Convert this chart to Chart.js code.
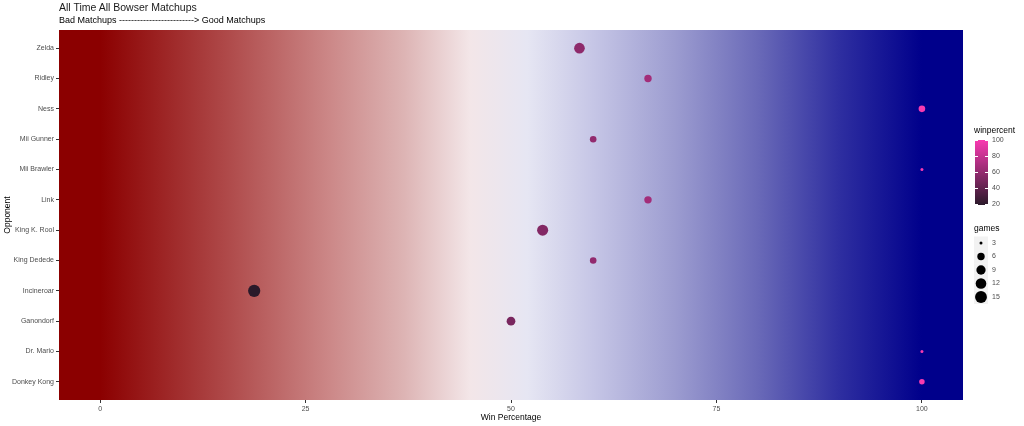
<!DOCTYPE html>
<html>
<head>
<meta charset="utf-8">
<script src="https://cdn.jsdelivr.net/npm/chart.js@4.4.1/dist/chart.umd.min.js"></script>
<style>
  html, body { margin: 0; padding: 0; background: #fff; }
  #wrap { position: relative; width: 1024px; height: 426px; font-family: "Liberation Sans", Arial, sans-serif; }
  #title { position: absolute; left: 59px; top: 1px; font-size: 10.5px; color: #1a1a1a; }
  #subtitle { position: absolute; left: 59px; top: 15px; font-size: 9px; color: #000; }
  canvas { position: absolute; left: 0; top: 0; }
</style>
</head>
<body>
<div id="wrap">
  <canvas id="chart" width="1024" height="426"></canvas>
  <div id="title">All Time All Bowser Matchups</div>
  <div id="subtitle">Bad Matchups -------------------------&gt; Good Matchups</div>
</div>
<script>
// ---- data ----
const opponents = ["Zelda", "Ridley", "Ness", "Mii Gunner", "Mii Brawler", "Link",
                   "King K. Rool", "King Dedede", "Incineroar", "Ganondorf", "Dr. Mario", "Donkey Kong"];
const winPct = [58.33, 66.67, 100, 60, 100, 66.67, 53.85, 60, 18.75, 50, 100, 100];
const games  = [12, 6, 5, 5, 3, 6, 13, 5, 16, 8, 3, 4];
const xTicks = [0, 25, 50, 75, 100];
const colorTicks = [20, 40, 60, 80, 100];
const sizeTicks = [3, 6, 9, 12, 15];

// ---- scales for colour / size (like ggplot's) ----
const pctMin = Math.min(...winPct), pctMax = Math.max(...winPct);
const gMin = Math.min(...games), gMax = Math.max(...games);
const LOW = [42, 26, 42], HIGH = [247, 58, 176];

function pctColor(v){
  const t = Math.max(0, Math.min(1, (v - pctMin) / (pctMax - pctMin)));
  const c = LOW.map((l, i) => Math.round(l + (HIGH[i] - l) * t));
  return `rgb(${c[0]},${c[1]},${c[2]})`;
}
function gamesRadius(g){
  const t = Math.max(0, (g - gMin) / (gMax - gMin));
  return 1.5 + 4.6 * Math.sqrt(t);
}

// background fill from darkred to darkblue
const bgStops = [
  [0, "#8b0000"], [0.16, "#b04c4c"], [0.28, "#cc8888"], [0.37, "#ddb4b4"],
  [0.45, "#f3e6e8"], [0.52, "#e6e6f3"], [0.6, "#c6c6e6"], [0.7, "#9c9cd0"],
  [0.8, "#6a6ab8"], [0.9, "#2e2ea0"], [1, "#00008b"]
];

const bgPlugin = {
  id: "bgGradient",
  beforeDatasetsDraw(chart){
    const { ctx, chartArea: a, scales: { x } } = chart;
    const g = ctx.createLinearGradient(x.getPixelForValue(0), 0, x.getPixelForValue(100), 0);
    bgStops.forEach(s => g.addColorStop(s[0], s[1]));
    ctx.save();
    ctx.fillStyle = g;
    ctx.fillRect(a.left, a.top, a.right - a.left, a.bottom - a.top);
    ctx.restore();
  }
};

// legends on the right
const legendPlugin = {
  id: "sideLegend",
  afterDraw(chart){
    const ctx = chart.ctx;
    ctx.save();
    ctx.font = '8.5px "Liberation Sans", Arial, sans-serif';
    ctx.fillStyle = "#000";
    ctx.textBaseline = "middle";
    ctx.fillText("winpercent", 974, 131);

    // colour bar
    const bx = 975, bw = 13, yTop = 140, yBot = 205;
    const yOf = v => yBot - (v - pctMin) / (pctMax - pctMin) * (yBot - yTop);
    for (let y = yTop; y < yBot; y++){
      const v = pctMin + (yBot - y) / (yBot - yTop) * (pctMax - pctMin);
      ctx.fillStyle = pctColor(v);
      ctx.fillRect(bx, y, bw, 1);
    }
    ctx.font = '7px "Liberation Sans", Arial, sans-serif';
    colorTicks.forEach(v => {
      const y = Math.round(yOf(v)) + 0.5;
      ctx.strokeStyle = "#fff";
      ctx.lineWidth = 1;
      ctx.beginPath();
      ctx.moveTo(bx, y); ctx.lineTo(bx + 3, y);
      ctx.moveTo(bx + bw - 3, y); ctx.lineTo(bx + bw, y);
      ctx.stroke();
      ctx.fillStyle = "#4d4d4d";
      ctx.fillText(String(v), 992, y);
    });

    // size key
    ctx.font = '8.5px "Liberation Sans", Arial, sans-serif';
    ctx.fillStyle = "#000";
    ctx.fillText("games", 974, 229);
    ctx.font = '7px "Liberation Sans", Arial, sans-serif';
    sizeTicks.forEach((g, i) => {
      const cy = 243 + i * 13.5;
      ctx.fillStyle = "#f2f2f2";
      ctx.fillRect(974, cy - 6.5, 14, 13.5);
      ctx.fillStyle = "#000";
      ctx.beginPath();
      ctx.arc(981, cy, gamesRadius(g), 0, Math.PI * 2);
      ctx.fill();
      ctx.fillStyle = "#4d4d4d";
      ctx.fillText(String(g), 992, cy);
    });
    ctx.restore();
  }
};

const points = opponents.map((name, i) => ({ x: winPct[i], y: i, r: gamesRadius(games[i]) }));

const tickFont = { family: '"Liberation Sans", Arial, sans-serif', size: 7 };
const titleFont = { family: '"Liberation Sans", Arial, sans-serif', size: 8.5 };

new Chart(document.getElementById("chart"), {
  type: "bubble",
  data: {
    datasets: [{
      label: "matchups",
      data: points,
      backgroundColor: ctx => pctColor(winPct[ctx.dataIndex]),
      borderWidth: 0,
      hoverBorderWidth: 0
    }]
  },
  options: {
    responsive: false,
    animation: false,
    layout: { padding: { top: 30, right: 61, left: 0, bottom: 0 } },
    plugins: { legend: { display: false }, tooltip: { enabled: false } },
    scales: {
      x: {
        type: "linear",
        min: -5, max: 105,
        afterBuildTicks: s => { s.ticks = xTicks.map(v => ({ value: v })); },
        afterFit: s => { s.height = 26; },
        border: { display: false },
        grid: { drawOnChartArea: false, tickLength: 3, color: "#333" },
        ticks: { font: tickFont, color: "#4d4d4d", padding: 2 },
        title: { display: true, text: "Win Percentage", color: "#000", font: titleFont,
                 padding: { top: 0, bottom: 3 } }
      },
      y: {
        type: "linear",
        reverse: true,
        min: -0.6, max: opponents.length - 0.4,
        afterBuildTicks: s => { s.ticks = opponents.map((n, i) => ({ value: i })); },
        afterFit: s => { s.width = 59; },
        border: { display: false },
        grid: { drawOnChartArea: false, tickLength: 3, color: "#333" },
        ticks: { font: tickFont, color: "#4d4d4d", padding: 2, callback: v => opponents[v] },
        title: { display: true, text: "Opponent", color: "#000", font: titleFont,
                 padding: { top: 3, bottom: 0 } }
      }
    }
  },
  plugins: [bgPlugin, legendPlugin]
});
</script>
</body>
</html>
